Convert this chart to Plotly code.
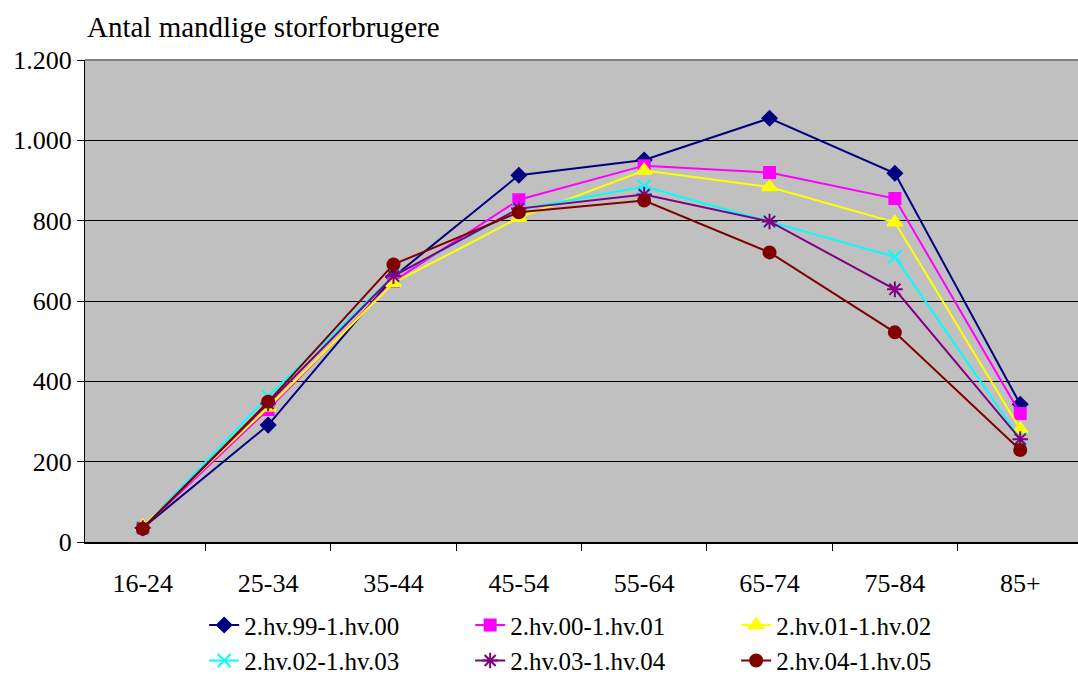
import plotly.graph_objects as go

categories = ["16-24", "25-34", "35-44", "45-54", "55-64", "65-74", "75-84", "85+"]

s_99_00 = [35, 291, 660, 913, 951, 1055, 918, 343]
s_00_01 = [35, 330, 649, 852, 937, 920, 855, 320]
s_01_02 = [40, 335, 645, 807, 925, 884, 796, 281]
s_02_03 = [35, 363, 662, 828, 885, 798, 710, 256]
s_03_04 = [35, 345, 662, 830, 865, 798, 629, 256]
s_04_05 = [33, 349, 691, 821, 850, 721, 522, 229]

series_names = ["2.hv.99-1.hv.00", "2.hv.00-1.hv.01", "2.hv.01-1.hv.02",
                "2.hv.02-1.hv.03", "2.hv.03-1.hv.04", "2.hv.04-1.hv.05"]
series_values = [s_99_00, s_00_01, s_01_02, s_02_03, s_03_04, s_04_05]
colors = ["#000080", "#FF00FF", "#FFFF00", "#00FFFF", "#800080", "#800000"]
symbols = ["diamond", "square", "triangle-up", "x-thin-open", "asterisk-open", "circle"]
sizes = [11, 11, 13, 13, 13, 12]

FONT = "Liberation Serif, Times New Roman, serif"

fig = go.Figure()
for name, vals, col, sym, sz in zip(series_names, series_values, colors, symbols, sizes):
    fig.add_trace(go.Scatter(
        x=categories, y=vals, name=name, mode="lines+markers",
        line=dict(color=col, width=2),
        marker=dict(symbol=sym, size=sz, color=col, line=dict(color=col, width=2)),
    ))

fig.update_layout(
    width=1078, height=679,
    margin=dict(l=85, r=0, t=60, b=137, autoexpand=False),
    paper_bgcolor="white", plot_bgcolor="#C0C0C0",
    separators=",.",
    font=dict(family=FONT, size=26, color="black"),
    showlegend=True,
    legend=dict(
        orientation="h", x=0.12, xanchor="left", y=-0.125, yanchor="top",
        entrywidth=221, entrywidthmode="pixels",
        font=dict(family=FONT, size=25, color="black"),
        bgcolor="rgba(0,0,0,0)", tracegroupgap=0, itemwidth=30,
    ),
    annotations=[dict(
        text="Antal mandlige storforbrugere", xref="paper", yref="paper",
        x=0, y=1, xanchor="left", yanchor="bottom", yshift=15, xshift=0,
        showarrow=False, font=dict(family=FONT, size=29, color="black"),
    )],
    shapes=[dict(type="line", xref="paper", yref="paper", x0=0, x1=1, y0=1, y1=1,
                 line=dict(color="#808080", width=2), layer="above")],
)

fig.update_xaxes(
    type="category", showline=True, linecolor="black", linewidth=2,
    ticks="outside", tickson="boundaries", ticklen=7, tickcolor="black",
    showgrid=False, ticklabelstandoff=17,
    tickfont=dict(family=FONT, size=26),
)
fig.update_yaxes(
    range=[0, 1200], dtick=200, tickformat=",d",
    showline=True, linecolor="black", linewidth=1,
    ticks="outside", ticklen=7, tickcolor="black",
    showgrid=True, gridcolor="black", gridwidth=1, zeroline=False,
    tickfont=dict(family=FONT, size=26),
)

fig.write_html("out.html")
